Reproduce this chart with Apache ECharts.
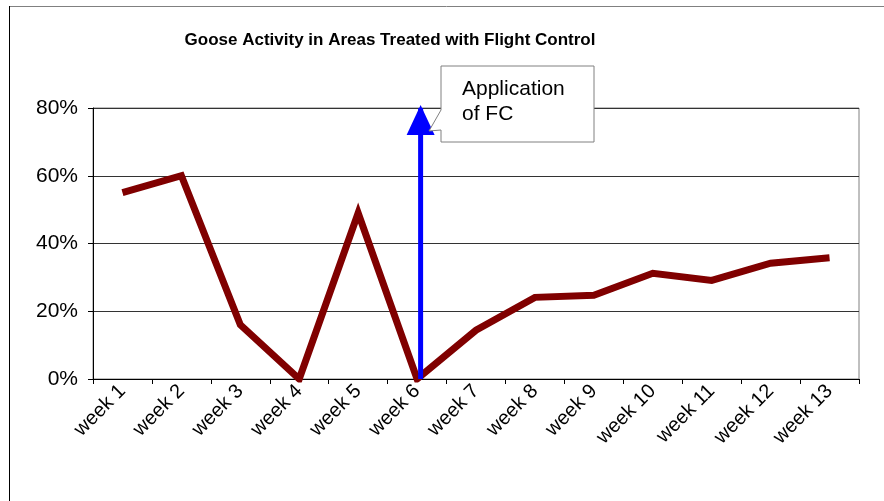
<!DOCTYPE html>
<html>
<head>
<meta charset="utf-8">
<script src="https://cdn.jsdelivr.net/npm/echarts@6/dist/echarts.min.js"></script>
<style>
html,body{margin:0;padding:0;background:#fff;}
#chart{width:884px;height:501px;}
</style>
</head>
<body>
<div id="chart"></div>
<script>
const categories = ['week 1','week 2','week 3','week 4','week 5','week 6','week 7','week 8','week 9','week 10','week 11','week 12','week 13'];
const activity = [55, 60, 16, 0, 49, 0, 14.4, 24.1, 24.7, 31.2, 29.1, 34.2, 35.8];
const yTicks = [0, 20, 40, 60, 80];
const fcPosition = 6.06;   // position on category scale (1 = week 1)
const fcArrow = [0, 80];
const titleText = 'Goose Activity in Areas Treated with Flight Control';
const calloutText = 'Application\nof FC';

const chart = echarts.init(document.getElementById('chart'), null, {renderer:'canvas'});
const FONT = '"Liberation Sans", Arial, sans-serif';

chart.setOption({
  animation: false,
  backgroundColor: '#fff',
  title: {
    text: titleText,
    left: 385, top: 27, textAlign: 'center',
    textStyle: {fontFamily: '"Liberation Sans Narrow", "Liberation Sans", Arial, sans-serif', fontWeight: 'bold', fontSize: 17, color: '#000'}
  },
  grid: {left: 93, right: 25, top: 108, bottom: 122, show: true, borderColor: '#808080', borderWidth: 1},
  xAxis: [{
    type: 'category', data: categories, boundaryGap: true,
    axisLine: {lineStyle: {color: '#000', width: 1}},
    axisTick: {show: true, length: 5, inside: false, alignWithLabel: false, lineStyle: {color: '#000'}},
    axisLabel: {rotate: 45, fontSize: 20, fontFamily: FONT, color: '#000', margin: 9, interval: 0},
    splitLine: {show: false}
  }, {
    type: 'value', min: 0.5, max: 13.5, show: false
  }],
  yAxis: {
    type: 'value', min: 0, max: 80, interval: 20,
    axisLine: {show: true, lineStyle: {color: '#000'}},
    axisTick: {show: true, length: 5, lineStyle: {color: '#000'}},
    axisLabel: {formatter: v => yTicks.includes(v) ? v + '%' : '', fontSize: 21, fontFamily: FONT, color: '#000', margin: 15},
    splitLine: {show: true, lineStyle: {color: '#333', width: 1}}
  },
  series: [{
    type: 'line', data: activity, xAxisIndex: 0,
    symbol: 'none', smooth: false,
    lineStyle: {color: '#800000', width: 7, join: 'miter', cap: 'butt'},
    z: 3
  }, {
    type: 'line', xAxisIndex: 1,
    data: [
      {value: [fcPosition, fcArrow[0]], symbol: 'none'},
      {value: [fcPosition, fcArrow[1]], symbol: 'triangle', symbolSize: [28, 30], symbolOffset: [0, 12]}
    ],
    lineStyle: {color: '#0000ff', width: 5, cap: 'butt'},
    itemStyle: {color: '#0000ff'},
    z: 4
  }],
  graphic: [{
    type: 'line', shape: {x1: 9, y1: 6.5, x2: 884, y2: 6.5},
    style: {stroke: '#808080', lineWidth: 1}, silent: true, z: -10
  }, {
    type: 'line', shape: {x1: 9.5, y1: 6, x2: 9.5, y2: 501},
    style: {stroke: '#000', lineWidth: 1}, silent: true, z: -10
  }, {
    type: 'polygon',
    shape: {points: [[441,66],[594,66],[594,142],[441,142],[441,130],[429,131],[441,110]]},
    style: {fill: '#fff', stroke: '#808080', lineWidth: 1}, z: 100
  }, {
    type: 'text', left: 462, top: 77, z: 101,
    style: {text: calloutText, font: '21px "Liberation Sans", Arial, sans-serif', fill: '#000', lineHeight: 25}
  }]
});
</script>
</body>
</html>
